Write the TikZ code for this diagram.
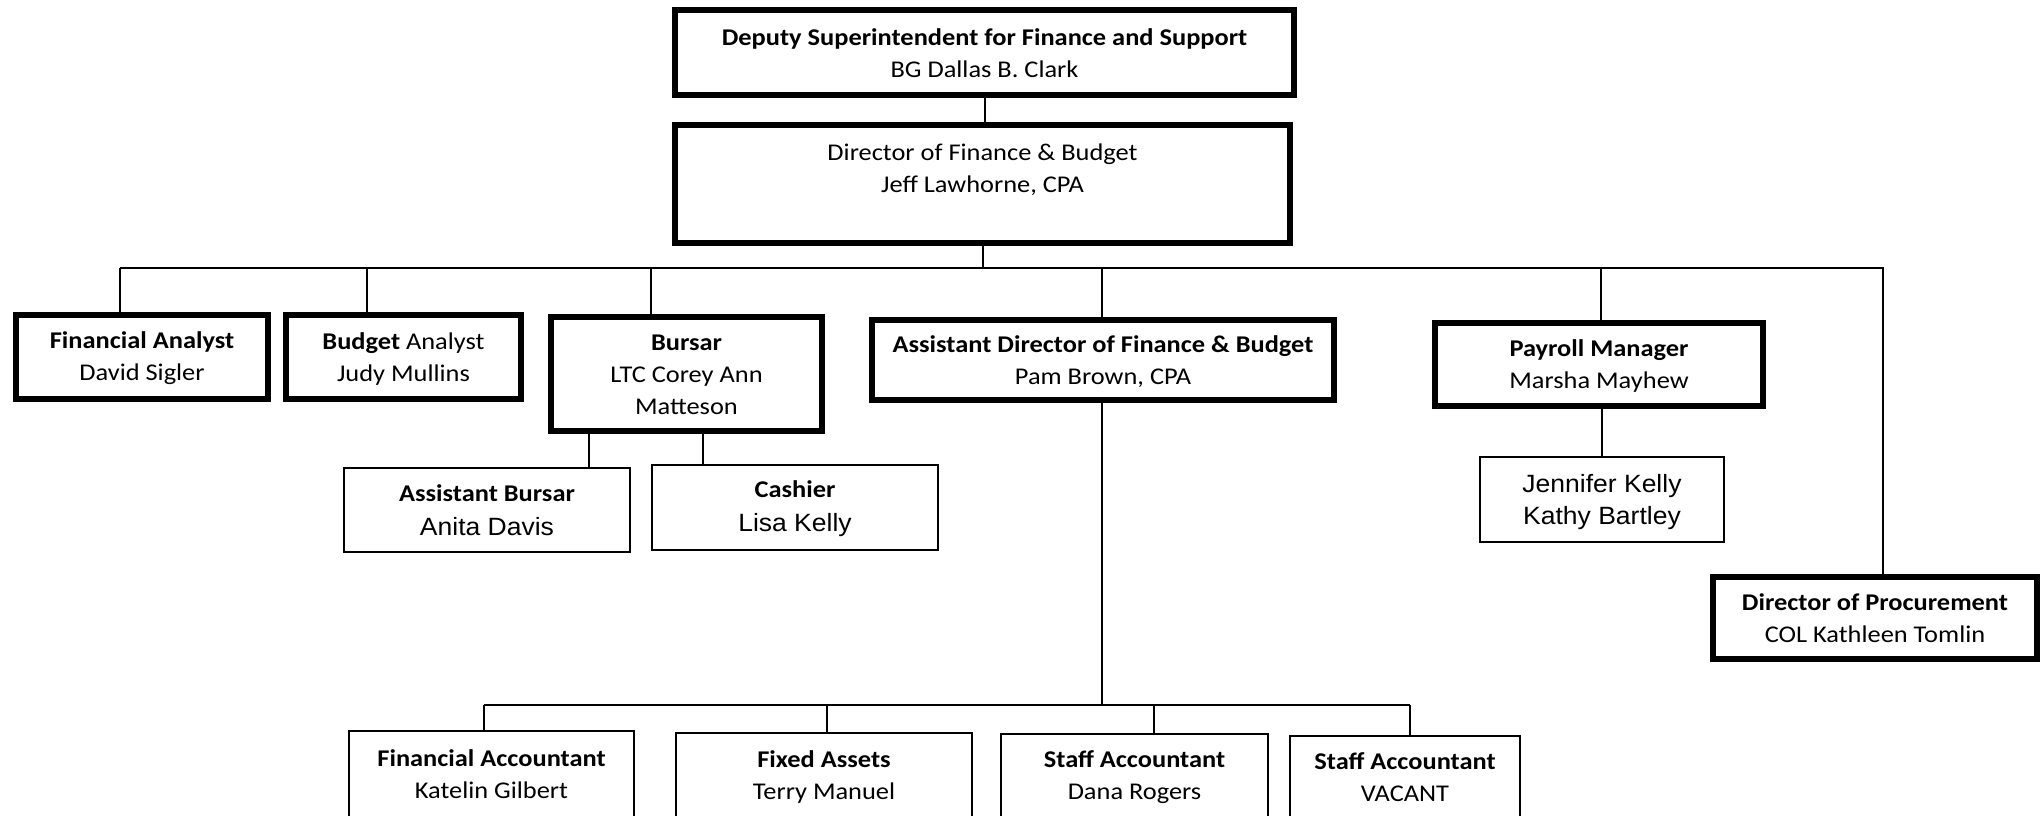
\documentclass[tikz,border=0pt]{standalone}
\usepackage{fontspec}
\setmainfont{Carlito}[FakeStretch=1.1]
\newfontfamily\arialf{Liberation Sans}[FakeStretch=1.06]
\newcommand{\sr}{\rule[-3pt]{0pt}{23pt}}
\newcommand{\sq}{\rule[-1pt]{0pt}{25pt}}
\begin{document}
\begin{tikzpicture}[x=1pt, y=-1pt,
  font=\fontsize{24}{32}\selectfont,
  thickbox/.style={draw, line width=6.5pt, inner sep=0pt, outer sep=0pt, align=center},
  thinbox/.style={draw, line width=1.7pt, inner sep=0pt, outer sep=0pt, align=center},
  conn/.style={line width=2pt},
  arl/.style={font=\arialf\fontsize{25}{32}\selectfont}]
\path[use as bounding box] (0,0) rectangle (2042,815);
\clip (0,0) rectangle (2042,815);

% top level
\node[thickbox, minimum width=619pt, minimum height=85pt] (dep) at (984.5,52.5)
  {\sr\textbf{Deputy Superintendent for Finance and Support}\\\sr BG Dallas B. Clark};
\node[thickbox, minimum width=615pt, minimum height=118pt] (dir) at (982.5,184)
  {\sr Director of Finance \& Budget\\\sr Jeff Lawhorne, CPA\\\sr};

% second level
\node[thickbox, minimum width=252pt, minimum height=84pt] (fa) at (142,357)
  {\sr\textbf{Financial Analyst}\\\sr David Sigler};
\node[thickbox, minimum width=235pt, minimum height=84pt] (ba) at (403.5,357)
  {\sr\textbf{Budget} Analyst\\\sr Judy Mullins};
\node[thickbox, minimum width=271pt, minimum height=114pt] (bur) at (686.5,374)
  {\sr\textbf{Bursar}\\\sr LTC Corey Ann\\\sr Matteson};
\node[thickbox, minimum width=462pt, minimum height=80pt] (ad) at (1103,360)
  {\sr\textbf{Assistant Director of Finance \& Budget}\\\sr Pam Brown, CPA};
\node[thickbox, minimum width=328pt, minimum height=83pt] (pm) at (1599,364.5)
  {\sr\textbf{Payroll Manager}\\\sr Marsha Mayhew};
\node[thickbox, minimum width=324pt, minimum height=82pt] (proc) at (1875,618)
  {\sr\textbf{Director of Procurement}\\\sr COL Kathleen Tomlin};

% third level
\node[thinbox, minimum width=286pt, minimum height=84pt] (ab) at (487,510)
  {\sr\textbf{Assistant Bursar}\\[2pt]\sr{\arialf\fontsize{25}{32}\selectfont Anita Davis}};
\node[thinbox, minimum width=286pt, minimum height=85pt] (cash) at (795,507.5)
  {\sr\textbf{Cashier}\\[2pt]\sr{\arialf\fontsize{25}{32}\selectfont Lisa Kelly}};
\node[thinbox, arl, minimum width=244pt, minimum height=85pt] (jk) at (1602,499.5)
  {\sq Jennifer Kelly\\\sq Kathy Bartley};

% bottom level
\node[thinbox, minimum width=285pt, minimum height=86pt] (facc) at (491.5,774)
  {\sr\textbf{Financial Accountant}\\\sr Katelin Gilbert};
\node[thinbox, minimum width=296pt, minimum height=84pt] (fix) at (824,775)
  {\sr\textbf{Fixed Assets}\\\sr Terry Manuel};
\node[thinbox, minimum width=267pt, minimum height=83pt] (dana) at (1134.5,775.5)
  {\sr\textbf{Staff Accountant}\\\sr Dana Rogers};
\node[thinbox, minimum width=230pt, minimum height=81pt] (vac) at (1405,776.5)
  {\sr\textbf{Staff Accountant}\\\sr VACANT};

% connectors
\draw[conn] (dep.south) -- (dep.south |- dir.north);
\coordinate (busL) at (120,268);
\coordinate (busR) at (1883,268);
\coordinate (tba) at (367,268);
\coordinate (tbur) at (651,268);
\coordinate (tad) at (1102,268);
\coordinate (tpm) at (1601,268);
\draw[conn] (dir.south) -- (dir.south |- busL);
\draw[conn] (busL) -- (busR) -- (busR |- proc.north);
\draw[conn] (busL) -- (busL |- fa.north);
\draw[conn] (tba) -- (tba |- ba.north);
\draw[conn] (tbur) -- (tbur |- bur.north);
\draw[conn] (tad) -- (tad |- ad.north);
\draw[conn] (tpm) -- (tpm |- pm.north);

\coordinate (sab) at (589,431);
\coordinate (sca) at (703,431);
\coordinate (sjk) at (1602,406);
\draw[conn] (sab) -- (sab |- ab.north);
\draw[conn] (sca) -- (sca |- cash.north);
\draw[conn] (sjk) -- (sjk |- jk.north);

\coordinate (bbL) at (484,705);
\coordinate (bbR) at (1410,705);
\coordinate (tfix) at (827,705);
\coordinate (tdana) at (1154,705);
\draw[conn] (tad |- ad.south) -- (tad |- bbL);
\draw[line width=2.8pt] (bbL) -- (bbR);
\draw[conn] (bbL) -- (bbL |- facc.north);
\draw[conn] (tfix) -- (tfix |- fix.north);
\draw[conn] (tdana) -- (tdana |- dana.north);
\draw[conn] (bbR) -- (bbR |- vac.north);
\end{tikzpicture}
\end{document}
